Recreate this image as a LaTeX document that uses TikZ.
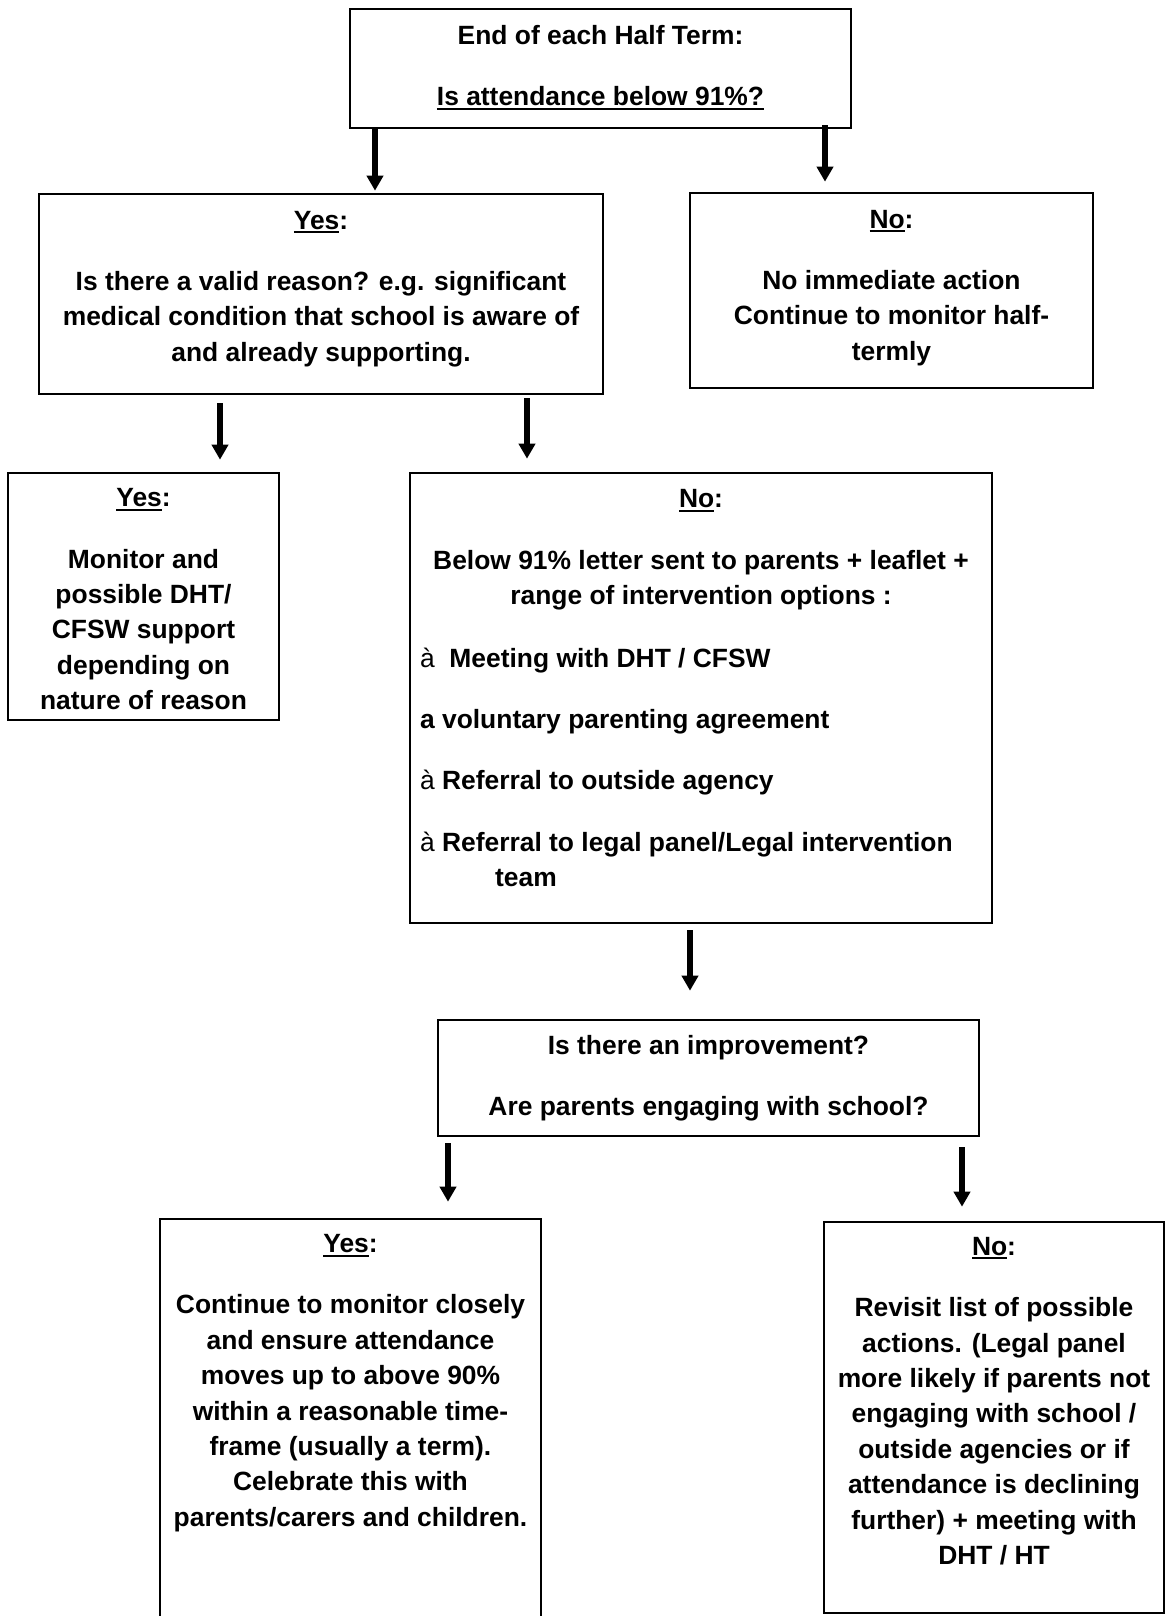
\documentclass[tikz,border=0pt]{standalone}
\usepackage{fontspec}
\setmainfont{Liberation Sans}
\usetikzlibrary{arrows.meta,calc}

\newsavebox{\undlbox}
\newcommand{\undl}[1]{\sbox\undlbox{#1}\rlap{\rule[-2pt]{\wd\undlbox}{1pt}}\usebox\undlbox}

\begin{document}
\begin{tikzpicture}[x=0.5pt, y=-0.5pt,
    box/.style={draw, line width=1.3pt, inner sep=0pt},
    txt/.style={inner sep=0pt, align=center, anchor=base, font=\bfseries\fontsize{13.2pt}{17.7pt}\selectfont},
    arr/.style={line width=2.8pt, -{Triangle[width=8pt,length=7.5pt]}}]
        \useasboundingbox (0,0) rectangle (1166,1616);
        \clip (0,0) rectangle (1166,1616);
        \node[box, minimum width=250.5pt, minimum height=59.5pt] (top) at (600.5,68.5) {};
        \node[box, minimum width=282pt, minimum height=100pt] (yes1) at (321,294) {};
        \node[box, minimum width=201.5pt, minimum height=97.5pt] (no1) at (891.5,290.5) {};
        \node[box, minimum width=135.5pt, minimum height=123.5pt] (yes2) at (143.5,596.5) {};
        \node[box, minimum width=291pt, minimum height=225pt] (no2) at (701,698) {};
        \node[box, minimum width=270.5pt, minimum height=58pt] (check) at (708.5,1078) {};
        \node[box, minimum width=190.5pt, minimum height=210.5pt] (yes3) at (350.5,1429.5) {};
        \node[box, minimum width=170pt, minimum height=195.5pt] (no3) at (994,1417.5) {};
        % texts sit on the baseline of their last line
        \node[txt] (topt) at ($(top.north)+(0,98)$) {End of each Half Term:\\[13pt] \undl{Is attendance below 91\%?}};
        \node[txt] (yes1t) at ($(yes1.north)+(0,168.6)$) {\undl{Yes}:\\[13pt] Is there a valid reason? e.g. significant\\ medical condition that school is aware of\\ and already supporting.};
        \node[txt] (no1t) at ($(no1.north)+(0,168.6)$) {\undl{No}:\\[13pt] No immediate action\\ Continue to monitor half-\\ termly};
        \node[txt] (yes2t) at ($(yes2.north)+(0,238)$) {\undl{Yes}:\\[13pt] Monitor and\\ possible DHT/\\ CFSW support\\ depending on\\ nature of reason};
        \node[txt] (no2t) at ($(no2.north)+(0,133)$) {\undl{No}:\\[13pt] Below 91\% letter sent to parents + leaflet +\\ range of intervention options :};
        \node[txt, align=left, anchor=base west] (no2list) at ($(no2.north west)+(11,415)$) {{\mdseries à}\ \ Meeting with DHT / CFSW\\[13pt] a voluntary parenting agreement\\[13pt] {\mdseries à} Referral to outside agency\\[13pt] {\mdseries à} Referral to legal panel/Legal intervention\\ \hspace*{37.5pt}team};
        \node[txt] (checkt) at ($(check.north)+(0,97)$) {Is there an improvement?\\[13pt] Are parents engaging with school?};
        \node[txt] (yes3t) at ($(yes3.north)+(0,308.6)$) {\undl{Yes}:\\[13pt] Continue to monitor closely\\ and ensure attendance\\ moves up to above 90\%\\ within a reasonable time-\\ frame (usually a term).\\ Celebrate this with\\ parents/carers and children.};
        \node[txt] (no3t) at ($(no3.north)+(0,343.8)$) {\undl{No}:\\[13pt] Revisit list of possible\\ actions. (Legal panel\\ more likely if parents not\\ engaging with school /\\ outside agencies or if\\ attendance is declining\\ further) + meeting with\\ DHT / HT};
        % arrows
        \path ($(top.south)+(-225.5,0)$) coordinate (a1) ($(top.south)+(224.5,-4)$) coordinate (a2)
          ($(yes1.south)+(-101,8)$) coordinate (a3) ($(yes1.south)+(206,3)$) coordinate (a4)
          ($(no2.south)+(-11,6)$) coordinate (a5) ($(check.south)+(-260.5,6)$) coordinate (a6)
          ($(check.south)+(253.5,10)$) coordinate (a7);
        \draw[arr, shorten >=1pt] (a1) -- (a1 |- yes1.north);
        \draw[arr, shorten >=5pt] (a2) -- (a2 |- no1.north);
        \draw[arr, shorten >=6pt] (a3) -- (a3 |- yes2.north);
        \draw[arr, shorten >=6.5pt] (a4) -- (a4 |- no2.north);
        \draw[arr, shorten >=14pt] (a5) -- (a5 |- check.north);
        \draw[arr, shorten >=8pt] (a6) -- (a6 |- yes3.north);
        \draw[arr, shorten >=7pt] (a7) -- (a7 |- no3.north);
      \end{tikzpicture}
\end{document}
